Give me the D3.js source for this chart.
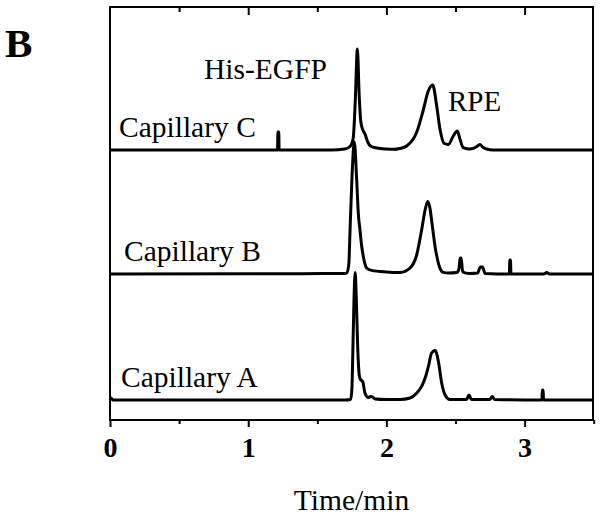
<!DOCTYPE html>
<head>
  <meta charset="utf-8">
  <script src="https://d3js.org/d3.v7.min.js"></script>
  <style>
    body { margin: 0; background: #fff; }
    svg { display: block; }
    text { font-family: "Liberation Serif", "Times New Roman", serif; fill: #000; }
  </style>
</head>

<body>
  <svg width="601" height="515"></svg>
  <script>
    // options
    var width = 601;
    var height = 515;
    var plot = {left: 110, right: 593.7, top: 7, bottom: 420};

    // data
    var xTicks = [0, 1, 2, 3];
    var xMinorTicks = [0.5, 1.5, 2.5, 3.5];
    var traceNames = ["Capillary A", "Capillary B", "Capillary C"];
    var traceOffsets = [0, 126, 250];

    // [time (min), signal]
    var capA = [[0, 0], [0.008, 2], [0.02, 0], [1.70, 0], [1.741, 0.5], [1.750, 10], [1.758, 54], [1.766, 103],
      [1.774, 127.6], [1.782, 103], [1.792, 54], [1.805, 23.6], [1.815, 20], [1.828, 18.6], [1.845, 7],
      [1.869, 2.5], [1.885, 3.6], [1.90, 3], [1.918, 1], [2.0, 0.5], [2.1, 0.5], [2.171, 2], [2.22, 7],
      [2.255, 13.6], [2.285, 24], [2.304, 33.6], [2.327, 47], [2.352, 49.6], [2.376, 38.6], [2.40, 17],
      [2.424, 5.3], [2.46, 0.5], [2.58, 0.5], [2.598, 5], [2.615, 0.5], [2.75, 0.5], [2.766, 3.6],
      [2.782, 0.5], [3.125, 0], [3.128, 10], [3.134, 10], [3.137, 0], [3.5, 0]];

    var capB = [[0, 0], [1.70, 0.5], [1.713, 1], [1.728, 10], [1.737, 44], [1.752, 100], [1.768, 132],
      [1.785, 94], [1.797, 60], [1.809, 44], [1.821, 28], [1.833, 17.6], [1.845, 10], [1.857, 6],
      [1.893, 3.6], [2.0, 2], [2.10, 1.5], [2.171, 6], [2.219, 19], [2.255, 44], [2.28, 64], [2.299, 72.6],
      [2.315, 66], [2.327, 54], [2.352, 27.6], [2.383, 7.6], [2.412, 1.6], [2.45, 1], [2.51, 1.5],
      [2.525, 5], [2.533, 16], [2.541, 16], [2.552, 2], [2.60, 0.5], [2.66, 1], [2.68, 7], [2.695, 7],
      [2.715, 0.5], [2.890, 0], [2.893, 14], [2.898, 14], [2.901, 0], [3.14, 0], [3.16, 1.5], [3.18, 0], [3.5, 0]];

    var capC = [[0, 0], [1.20, 0], [1.212, 0], [1.215, 18], [1.221, 18], [1.224, 0], [1.60, 0], [1.70, 1],
      [1.74, 4], [1.76, 12], [1.775, 50], [1.79, 101], [1.803, 55], [1.815, 28], [1.83, 20], [1.845, 16],
      [1.865, 8], [1.885, 4], [1.93, 2], [2.0, 1], [2.05, 0.7], [2.098, 1.5], [2.147, 4], [2.219, 17.7],
      [2.267, 40], [2.303, 59], [2.335, 65], [2.364, 44], [2.388, 20.7], [2.417, 6.7], [2.448, 5.5],
      [2.484, 14], [2.513, 19], [2.533, 10.7], [2.556, 2.4], [2.605, 1], [2.65, 3], [2.677, 5.5],
      [2.70, 2.5], [2.726, 1], [2.77, 0], [3.5, 0]];

    var traces = [capA, capB, capC];

    // scales
    var xScale = d3.scaleLinear()
      .domain([0, 3.5])
      .range([plot.left, plot.right]);

    var yScale = d3.scaleLinear()
      .domain([-19, 393])
      .range([plot.bottom - 1, plot.top]);

    var svg = d3.select('svg');

    // traces
    var line = d3.line()
      .x(function(d) { return xScale(d[0]); })
      .curve(d3.curveMonotoneX);

    traces.forEach(function(tr, i) {
      svg.append('path')
        .datum(tr)
        .attr('fill', 'none')
        .attr('stroke', '#000')
        .attr('stroke-width', 3)
        .attr('stroke-linejoin', 'round')
        .attr('d', line.y(function(d) { return yScale(d[1] + traceOffsets[i]); }));
    });

    // frame
    svg.append('rect')
      .attr('x', plot.left)
      .attr('y', plot.top)
      .attr('width', 593 - plot.left)
      .attr('height', plot.bottom - plot.top)
      .attr('fill', 'none')
      .attr('stroke', '#000')
      .attr('stroke-width', 2);

    // axes
    var bottomAxis = d3.axisBottom(xScale)
      .tickValues(xTicks)
      .tickSize(7)
      .tickSizeOuter(0)
      .tickPadding(10)
      .tickFormat(d3.format('d'));
    var gx = svg.append('g')
      .attr('transform', 'translate(0,' + plot.bottom + ')')
      .call(bottomAxis);
    gx.select('.domain').remove();
    gx.selectAll('line').attr('stroke-width', 2);
    gx.selectAll('text')
      .attr('font-family', '"Liberation Serif", serif')
      .attr('font-weight', 'bold')
      .attr('font-size', 28);

    var gxm = svg.append('g')
      .attr('transform', 'translate(0,' + plot.bottom + ')')
      .call(d3.axisBottom(xScale).tickValues(xMinorTicks).tickSize(4).tickFormat(''));
    gxm.select('.domain').remove();
    gxm.selectAll('line').attr('stroke-width', 2);

    var gt = svg.append('g')
      .attr('transform', 'translate(0,' + plot.top + ')')
      .call(d3.axisBottom(xScale).tickValues(xTicks.slice(1)).tickSize(8).tickFormat(''));
    gt.select('.domain').remove();
    gt.selectAll('line').attr('stroke-width', 2);

    var gtm = svg.append('g')
      .attr('transform', 'translate(0,' + plot.top + ')')
      .call(d3.axisBottom(xScale).tickValues(xMinorTicks.slice(0, 3)).tickSize(5).tickFormat(''));
    gtm.select('.domain').remove();
    gtm.selectAll('line').attr('stroke-width', 2);

    // labels
    var labelX = [121, 124, 119];
    traceNames.forEach(function(name, i) {
      svg.append('text')
        .attr('x', labelX[i])
        .attr('y', yScale(traceOffsets[i]) - 13.5)
        .attr('font-size', 29.5)
        .text(name);
    });

    svg.append('text')
      .attr('x', 204).attr('y', 79)
      .attr('font-size', 29.5)
      .text('His-EGFP');

    svg.append('text')
      .attr('x', 448).attr('y', 111)
      .attr('font-size', 29)
      .text('RPE');

    svg.append('text')
      .attr('x', (plot.left + 593) / 2).attr('y', 510)
      .attr('text-anchor', 'middle')
      .attr('font-size', 29.5)
      .text('Time/min');

    svg.append('text')
      .attr('x', 5).attr('y', 57)
      .attr('font-size', 41)
      .attr('font-weight', 'bold')
      .text('B');
  </script>
</body>
